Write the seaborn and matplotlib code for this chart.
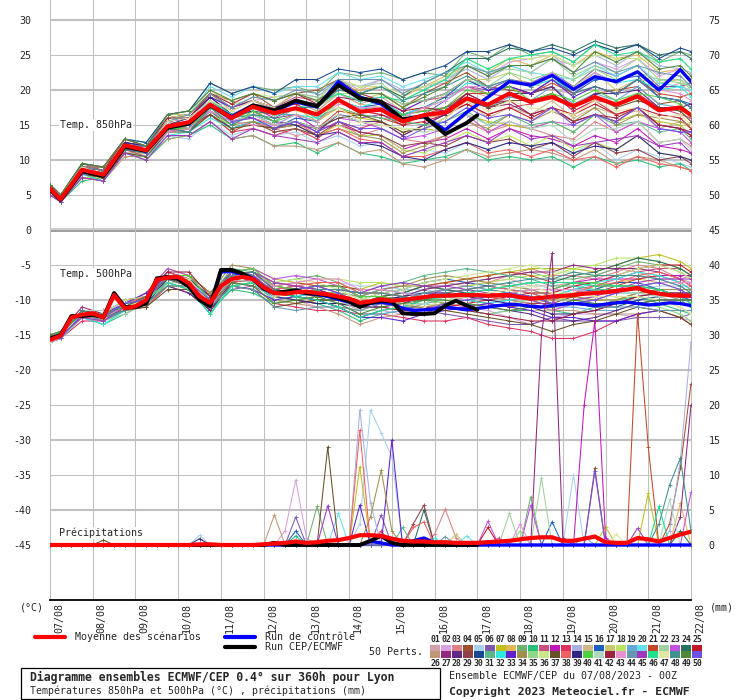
import numpy as np
import pandas as pd
import seaborn as sns
import matplotlib.pyplot as plt
from matplotlib.patches import Rectangle
from matplotlib.transforms import ScaledTranslation

# Time steps, hours after 07/08 00Z
hours_12 = [0, 6, 18, 30, 42, 54, 66, 78, 90, 102, 114, 126, 138, 150, 162, 174,
            186, 198, 210, 222, 234, 246, 258, 270, 282, 294, 306, 318, 330, 342, 354, 360]
hours_det12 = hours_12[:21] + [240]
hours_6 = list(range(0, 361, 6))
day_labels = ["07/08", "08/08", "09/08", "10/08", "11/08", "12/08", "13/08", "14/08",
              "15/08", "16/08", "17/08", "18/08", "19/08", "20/08", "21/08", "22/08"]

member_colors = ["#d4a0a8", "#d8a0e0", "#e08088", "#a05030", "#a8d0f0", "#8058b0", "#c0c020", "#e0b858",
                 "#70b070", "#28c078", "#c85080", "#c018b8", "#e03060", "#a8b0e0", "#d0b888", "#1860c0",
                 "#c8c870", "#b8e860", "#68a8d8", "#68e0f0", "#c04828", "#a0d0a0", "#c050e0", "#287060",
                 "#c01828", "#c09878", "#902880", "#602888", "#904048", "#184890", "#58b888", "#30e8e0",
                 "#6020d0", "#a09050", "#90d888", "#c8e888", "#685028", "#f06060", "#302880", "#50d040",
                 "#b0d8c0", "#a02040", "#e890d0", "#6898b0", "#a038c0", "#20e090", "#e0e8a0", "#409090",
                 "#508838", "#7050e8"]

# ---- Temp 850 hPa (12-hourly) ----
t850_mean = [5.9, 4.4, 8.6, 7.9, 12.1, 11.4, 14.8, 15.4, 17.9, 16.0, 17.6, 16.7, 17.4, 16.5, 18.6, 16.9,
             17.2, 15.5, 16.4, 16.8, 18.8, 17.9, 19.5, 18.3, 19.0, 17.7, 19.0, 17.9, 19.1, 17.1, 17.5, 16.4]
t850_ctrl = [5.9, 4.5, 8.5, 7.8, 12.0, 11.4, 14.7, 15.2, 17.9, 16.2, 17.8, 17.0, 18.3, 17.6, 21.2, 19.0,
             18.0, 15.8, 16.2, 14.3, 16.8, 19.0, 21.2, 20.7, 22.1, 20.1, 21.9, 21.2, 22.6, 20.0, 22.9, 21.2]
t850_det = [5.8, 4.3, 8.4, 7.7, 11.9, 11.3, 14.6, 15.2, 17.8, 16.0, 17.8, 17.1, 18.5, 17.7, 20.7, 18.8,
            18.3, 15.8, 16.3, 13.7, 15.3, 16.4]
t850_members = [
    [6, 4.5, 9, 8.5, 12.5, 11.5, 15.5, 16, 18.5, 16, 17.5, 17, 18.5, 17, 19.5, 18, 19, 17, 18.5, 19.5, 20, 19, 21.5, 21, 20, 19.5, 22, 21, 22.5, 20, 21, 19.5],
    [6.5, 4.5, 8.5, 8, 12.5, 12, 15.5, 15, 19.5, 17, 18.5, 19, 19.5, 18.5, 21.5, 20, 21.5, 19.5, 20.5, 21, 23.5, 22, 24, 24.5, 25, 22.5, 24, 23, 24.5, 22, 23, 21.5],
    [5.5, 4, 8.5, 7.5, 11.5, 11, 14.5, 15, 17, 15.5, 15, 14.5, 13.5, 14, 15.5, 13.5, 14.5, 13, 12.5, 13.5, 15.5, 14, 15, 14.5, 13.5, 13, 15.5, 14, 15.5, 12.5, 13, 12],
    [6.5, 5, 9.5, 8.5, 12.5, 12, 16, 16.5, 19.5, 18.5, 19.5, 17.5, 19.5, 20, 21.5, 19.5, 19.5, 17.5, 19.5, 21, 22.5, 20.5, 20, 19.5, 20.5, 17.5, 19.5, 20, 20.5, 18, 18.5, 17.5],
    [5.5, 4, 7.5, 7, 11, 10.5, 13.5, 13, 15.5, 13.5, 14.5, 13.5, 14, 12.5, 13.5, 12, 12.5, 10.5, 11.5, 11, 12.5, 11.5, 12.5, 12, 11.5, 11, 12.5, 10, 11.5, 10.5, 9.5, 9],
    [6, 4.5, 9, 8, 12, 11.5, 15, 14.5, 18, 15.5, 16.5, 15, 15.5, 14.5, 16.5, 16, 16.5, 15.5, 16.5, 18.5, 20.5, 20, 21.5, 21, 22.5, 20.5, 23, 22, 23.5, 20.5, 20.5, 21],
    [6, 5, 8, 8.5, 12.5, 11, 15.5, 16.5, 19, 17.5, 18.5, 17, 17.5, 15.5, 17.5, 16, 15.5, 14, 14.5, 14, 16.5, 15.5, 15, 14.5, 15.5, 14, 16.5, 15.5, 16.5, 15.5, 15, 13.5],
    [5.5, 4, 8, 7.5, 12, 11, 14.5, 15, 17.5, 16, 16.5, 17, 18.5, 17.5, 20.5, 20, 20.5, 19, 20.5, 22, 23.5, 22.5, 24.5, 23.5, 25, 23.5, 25.5, 24.5, 25, 22.5, 23, 21.5],
    [6, 5, 9.5, 9, 13, 12.5, 16.5, 17, 21, 19.5, 20.5, 20, 20.5, 19.5, 22.5, 22, 22.5, 21.5, 22.5, 22, 25.5, 24.5, 26.5, 25, 25.5, 24, 26.5, 25.5, 26.5, 24, 25.5, 25],
    [5, 4, 7, 7.5, 11, 10, 13, 13.5, 15, 13, 13.5, 12, 12.5, 11, 12.5, 11, 10.5, 9.5, 10, 10.5, 11.5, 10, 10.5, 10, 10.5, 9, 10.5, 9.5, 10, 9, 9.5, 8.5],
    [6, 4.5, 8, 8, 11.5, 11, 15, 15.5, 18, 16.5, 18, 17.5, 19, 18.5, 20, 19.5, 19.5, 18, 18.5, 19, 20.5, 19.5, 19, 18.5, 19.5, 17, 18.5, 18, 19.5, 17.5, 16.5, 16],
    [6, 5, 9, 8.5, 12, 12, 15.5, 16, 18.5, 16.5, 17.5, 16, 16.5, 14.5, 15, 14, 13.5, 11.5, 12.5, 13, 14.5, 13, 14.5, 13.5, 13, 12, 13.5, 12.5, 14.5, 12, 11.5, 11],
    [5.5, 4, 7.5, 7, 11.5, 10.5, 14, 14.5, 16.5, 14, 14.5, 13.5, 14.5, 13, 15.5, 14.5, 15.5, 13.5, 15, 16.5, 18, 16.5, 17.5, 18, 19.5, 17, 18.5, 16.5, 17.5, 15, 14.5, 13.5],
    [6, 4, 8.5, 8, 12, 11.5, 15, 15.5, 18, 16.5, 18, 17.5, 19.5, 19, 21.5, 20.5, 21.5, 20, 20.5, 21.5, 23, 21.5, 23.5, 22.5, 24.5, 23.5, 25, 23.5, 25.5, 23.5, 23, 22.5],
    [6, 4.5, 8.5, 8, 12, 11.5, 15.5, 16, 19.5, 17, 18.5, 17.5, 18.5, 17, 19.5, 18, 17.5, 15.5, 16, 16.5, 18.5, 16, 17.5, 16.5, 18.5, 16, 17.5, 16.5, 17, 14.5, 15.5, 14.5],
    [6, 4, 8.5, 8, 11.5, 11, 14.5, 14, 17, 14.5, 15.5, 14.5, 16, 15.5, 18.5, 17.5, 18, 16.5, 17.5, 19, 21.5, 20, 20.5, 19.5, 21.5, 19.5, 21.5, 21.5, 22, 19, 18.5, 18],
    [6.5, 5, 9, 9, 12.5, 12, 16.5, 16.5, 20, 18, 18.5, 17.5, 19.5, 18.5, 19.5, 18.5, 19.5, 17.5, 17, 19.5, 21.5, 21.5, 22.5, 20.5, 21.5, 20.5, 22.5, 20, 21.5, 21, 21.5, 20],
    [5.5, 4, 7.5, 7.5, 11, 10.5, 14.5, 14.5, 16.5, 15, 15.5, 14, 14.5, 13.5, 15, 13.5, 13.5, 11.5, 11, 12.5, 14, 12.5, 13.5, 12, 13.5, 11.5, 12.5, 11.5, 13.5, 11, 10.5, 10],
    [6, 4, 8, 8, 12, 11, 15, 15, 18, 16, 17.5, 16.5, 16.5, 15.5, 18.5, 17.5, 17, 16.5, 16, 17.5, 19, 17.5, 19, 18.5, 20.5, 18, 19.5, 18.5, 20.5, 18, 17.5, 16.5],
    [6.5, 5, 9, 9, 13, 12.5, 16, 16.5, 20.5, 19, 20.5, 19.5, 20.5, 20.5, 22.5, 21.5, 22, 20.5, 21.5, 22.5, 24, 22.5, 23.5, 22.5, 22, 21.5, 23.5, 22, 23.5, 21, 20.5, 20],
    [5.5, 4, 8, 7, 11.5, 11, 14, 14.5, 16.5, 14, 15.5, 14.5, 15, 14.5, 17, 16.5, 16, 15, 16.5, 17.5, 19.5, 19.5, 20.5, 19.5, 21, 19.5, 20.5, 19.5, 21.5, 19.5, 19, 19.5],
    [6, 5, 9, 8.5, 12.5, 12, 15.5, 16, 19, 17.5, 19, 18.5, 19.5, 19, 21, 20.5, 21, 18.5, 20, 21.5, 23.5, 22.5, 23, 22.5, 24.5, 22, 23.5, 22.5, 24.5, 21.5, 21.5, 20.5],
    [6, 4, 8.5, 8, 12, 11, 14.5, 15, 17.5, 15.5, 16.5, 15, 15.5, 14.5, 16, 15.5, 14.5, 13, 13.5, 14.5, 16.5, 14, 15.5, 14.5, 15.5, 15, 16.5, 14, 15.5, 14.5, 14, 12.5],
    [6, 4, 8, 7.5, 12, 11.5, 14.5, 14, 17.5, 16, 17, 16.5, 18.5, 18, 20.5, 19.5, 20.5, 19, 21, 22.5, 24.5, 24.5, 26, 25.5, 26.5, 25.5, 27, 26, 26.5, 25, 25.5, 24.5],
    [6.5, 5, 9, 8.5, 13, 12, 16, 16.5, 19.5, 17.5, 18.5, 17.5, 18, 16.5, 18.5, 17, 16.5, 15, 15.5, 16.5, 18, 16.5, 17.5, 16, 17.5, 16.5, 18, 16.5, 17.5, 16.5, 16, 14.5],
    [5, 4, 7.5, 7, 10.5, 10.5, 13, 13.5, 15.5, 13, 13.5, 12, 12, 11.5, 12.5, 11, 11.5, 9.5, 9, 10, 11.5, 10.5, 11, 11.5, 11, 10, 11.5, 9.5, 10.5, 10, 9, 8.5],
    [6, 4.5, 9, 8, 12.5, 11, 15, 15.5, 18, 16.5, 17.5, 17, 17.5, 16.5, 19, 18.5, 18.5, 16.5, 17, 17.5, 18.5, 17.5, 18, 16.5, 17.5, 15.5, 16.5, 15.5, 17.5, 15, 14.5, 14],
    [6, 5, 9, 8.5, 12, 12, 15.5, 16, 19, 16.5, 16, 14.5, 15.5, 14, 16.5, 15.5, 15.5, 13.5, 15, 16.5, 19.5, 18, 19.5, 19.5, 20.5, 17.5, 19.5, 19.5, 20, 17.5, 17.5, 18],
    [6, 4, 8, 7.5, 11.5, 11, 14, 15, 16.5, 14.5, 15.5, 14, 14.5, 13.5, 15.5, 14, 13.5, 12, 12.5, 12, 13.5, 12.5, 13, 11.5, 12.5, 10.5, 12.5, 11, 11.5, 10, 10.5, 9.5],
    [6.5, 5, 9.5, 9, 13, 12.5, 16.5, 17, 21, 19.5, 20.5, 19.5, 21.5, 21.5, 23, 22.5, 23, 21.5, 22.5, 23.5, 25.5, 25.5, 26.5, 25.5, 26, 25, 26.5, 25.5, 26.5, 24.5, 26, 25.5],
    [6, 4, 8, 8, 12, 11, 15, 14.5, 18, 16, 16.5, 15.5, 17.5, 16, 17.5, 16.5, 16, 15.5, 15, 15.5, 17, 15, 16.5, 15, 15.5, 14, 16.5, 15, 15.5, 14, 14.5, 13],
    [5.5, 4, 8, 7, 11, 10.5, 13.5, 14, 16, 14.5, 15.5, 15, 16.5, 16, 18.5, 17.5, 18.5, 16.5, 17.5, 18.5, 21, 20.5, 21.5, 20.5, 21.5, 20, 22.5, 21, 21.5, 20, 20.5, 19],
    [6, 5, 9, 8, 12.5, 12, 15.5, 16, 19, 17.5, 18.5, 17.5, 18.5, 17.5, 20.5, 19, 18.5, 17, 18.5, 19.5, 21.5, 20, 20.5, 19.5, 21.5, 19, 20.5, 19.5, 21.5, 19, 18.5, 17.5],
    [6, 4, 8, 8, 11, 11, 14, 15, 17, 15, 15.5, 14.5, 15, 13.5, 14.5, 13.5, 13, 11, 12, 13.5, 15.5, 14.5, 16.5, 15.5, 17, 15.5, 17.5, 15, 16.5, 16, 15.5, 15],
    [6, 4, 9, 8, 12, 11.5, 15, 15, 18.5, 16.5, 17.5, 16.5, 18.5, 17.5, 19.5, 19.5, 19.5, 18, 18.5, 19.5, 21.5, 20.5, 22.5, 21.5, 22.5, 21.5, 23, 21.5, 22.5, 21.5, 21, 20.5],
    [6.5, 5, 9, 9, 13, 12, 16, 16.5, 20, 18.5, 19.5, 19, 19.5, 18.5, 21.5, 20.5, 20.5, 19.5, 20.5, 21.5, 24.5, 23, 24.5, 24.5, 25, 23.5, 25, 24.5, 24.5, 24, 24.5, 23],
    [5.5, 4, 8, 7.5, 11, 10.5, 14, 14, 16.5, 14.5, 15, 14.5, 15.5, 14.5, 16, 16.5, 15.5, 14, 14.5, 16, 18.5, 17.5, 18.5, 18.5, 19.5, 17.5, 19, 17.5, 18.5, 17.5, 17, 15.5],
    [6, 4.5, 8, 8, 12, 11, 15, 15.5, 18, 15.5, 16, 15, 15.5, 13.5, 14.5, 13, 12.5, 10.5, 10.5, 11.5, 12.5, 11, 11.5, 10.5, 11.5, 10, 10.5, 9, 10.5, 9.5, 9, 8.5],
    [6, 5, 9, 8, 12.5, 12, 15, 16, 19, 16.5, 17, 15.5, 15, 13.5, 14, 12.5, 12, 10.5, 10, 11.5, 12.5, 11.5, 12.5, 12, 12.5, 11, 12, 11.5, 13.5, 11, 10.5, 10],
    [6, 4, 8.5, 8, 12, 11, 14.5, 14.5, 17.5, 15, 17, 15.5, 16.5, 15.5, 18.5, 17, 17.5, 16.5, 17, 17.5, 20, 19.5, 20.5, 18.5, 19.5, 18.5, 20, 18.5, 19.5, 19, 18, 16.5],
    [6, 4, 8, 8, 12, 11, 15, 15, 17.5, 15.5, 16.5, 15, 15.5, 14.5, 16.5, 15.5, 15, 14.5, 14, 14.5, 16.5, 15, 15.5, 14.5, 15, 12.5, 14.5, 14.5, 15.5, 12.5, 13, 11.5],
    [6.5, 5, 9, 9, 13, 12, 16, 16, 19.5, 18, 19.5, 18.5, 19.5, 18, 20.5, 19.5, 18.5, 17, 17.5, 17, 19.5, 18, 18.5, 16.5, 17.5, 15.5, 16.5, 16, 17.5, 15, 14.5, 13.5],
    [6, 4, 8, 8, 12, 11, 14, 14.5, 17, 15.5, 15, 15, 16.5, 15.5, 18, 17.5, 17.5, 16, 17.5, 18.5, 20.5, 20.5, 21.5, 20.5, 22.5, 20, 22.5, 21, 22.5, 20, 19.5, 18.5],
    [6, 5, 9, 8.5, 12, 12, 15.5, 16.5, 19.5, 17.5, 19, 18.5, 20, 19.5, 21.5, 21.5, 21.5, 19.5, 21, 22.5, 23.5, 22.5, 23.5, 23.5, 24.5, 22.5, 24, 22.5, 23.5, 22.5, 22, 20.5],
    [5, 4, 7.5, 7, 11, 10, 13.5, 13.5, 15.5, 13, 14.5, 13.5, 13, 12.5, 14, 12.5, 12.5, 10.5, 11.5, 12.5, 13.5, 12.5, 14.5, 13, 13.5, 12, 12.5, 13, 13.5, 12, 12.5, 11],
    [6, 4.5, 8.5, 8, 12, 11.5, 15, 15, 18.5, 16.5, 17.5, 17, 17.5, 18, 19.5, 18.5, 19, 18.5, 20, 21.5, 24.5, 23, 24.5, 25, 25.5, 24, 26.5, 25, 25.5, 24, 24.5, 23],
    [6, 5, 9, 8, 12, 11.5, 15.5, 16, 18.5, 17, 18.5, 17.5, 17, 16.5, 17.5, 15.5, 15, 14.5, 14.5, 16, 18.5, 17, 18.5, 17.5, 17, 16.5, 18.5, 17, 17.5, 16, 16.5, 15],
    [6, 4, 8, 8, 11.5, 11, 14.5, 14, 17.5, 15, 16.5, 16, 17.5, 17.5, 20, 19.5, 20.5, 18.5, 19.5, 20.5, 22, 20.5, 21.5, 20.5, 22, 19.5, 20.5, 19.5, 21.5, 19, 18.5, 17.5],
    [6.5, 5, 9.5, 9, 13, 12, 16.5, 17, 20, 18.5, 19.5, 18.5, 19.5, 18.5, 20.5, 19.5, 19.5, 17.5, 19, 20.5, 23.5, 22, 23.5, 23.5, 24.5, 22.5, 25.5, 24, 25.5, 23, 23.5, 22],
    [6, 4, 8, 8, 12, 11, 15, 15, 18, 15.5, 16, 14.5, 15.5, 14, 15.5, 14.5, 14.5, 13, 14.5, 15.5, 17.5, 16, 16.5, 15.5, 17.5, 15, 16.5, 15.5, 17.5, 14.5, 14, 14],
]

# ---- Temp 500 hPa ----
t500_mean = [-15.7, -15.1, -12.5, -12.1, -11.9, -12.5, -9.3, -11.2, -10.9, -10.0,
             -7.1, -6.8, -6.7, -7.6, -9.5, -10.4, -8.0, -7.0, -6.7, -7.0,
             -8.2, -9.0, -9.1, -8.9, -8.8, -9.0, -9.2, -9.5, -9.8, -10.4,
             -10.2, -9.9, -10.1, -10.0, -9.8, -9.6, -9.4, -9.4, -9.3, -9.3,
             -9.3, -9.4, -9.3, -9.3, -9.6, -9.8, -9.7, -9.5, -9.4, -9.3,
             -9.1, -9.0, -8.9, -8.7, -8.5, -8.3, -8.8, -9.1, -9.3, -9.4, -9.4]
t500_ctrl = [-15.6, -15.1, -12.4, -12.2, -12.0, -12.4, -9.2, -11.1, -11.0, -10.4,
             -7.0, -6.8, -7.0, -8.0, -9.9, -10.8, -6.0, -5.9, -6.4, -7.1,
             -8.3, -9.0, -8.9, -8.7, -9.0, -9.2, -9.5, -9.9, -10.3, -10.8,
             -10.5, -10.3, -10.5, -11.2, -11.5, -11.4, -11.3, -11.0, -11.2, -11.4,
             -11.2, -11.0, -10.8, -10.6, -10.7, -10.9, -11.0, -10.8, -10.6, -10.5,
             -10.6, -10.8, -10.6, -10.4, -10.3, -10.5, -10.7, -10.6, -10.4, -10.5, -10.8]
t500_det = [-15.5, -15.0, -12.3, -12.3, -12.1, -12.5, -9.0, -11.0, -11.0, -10.5,
            -6.9, -6.7, -7.0, -8.1, -10.0, -10.9, -5.7, -5.7, -6.2, -7.0,
            -8.4, -9.0, -8.8, -8.6, -9.0, -9.1, -9.3, -9.7, -10.2, -11.0,
            -10.4, -10.1, -10.2, -11.9, -12.0, -12.0, -11.9, -10.8, -10.1, -10.8, -11.4]
t500_members = [
    [-15.5, -14.5, -12, -12, -11, -9.5, -7, -7, -10.5, -6.5, -6, -8, -8.5, -8, -8, -9.5, -9.5, -9, -8, -7.5, -8, -7.5, -7, -8, -8, -7.5, -6.5, -5.5, -6, -7, -7, -7.5],
    [-16, -15, -12.5, -12.5, -10.5, -10, -7.5, -7.5, -11.5, -7.5, -8, -10.5, -10, -11, -11, -11.5, -11.5, -12, -12, -11.5, -11, -11.5, -12.5, -13.5, -12.5, -12, -12, -12, -12.5, -12.5, -12.5, -13],
    [-15.5, -15, -11.5, -12.5, -11, -9.5, -6.5, -6.5, -10, -7, -6.5, -9, -8.5, -8, -9, -10.5, -10.5, -10, -9, -8.5, -8, -7.5, -6.5, -5.5, -6.5, -6.5, -7, -6, -5, -5.5, -7, -6.5],
    [-15, -15, -12, -13, -11, -10.5, -8, -8, -10.5, -8, -7.5, -10, -10.5, -10, -10, -10.5, -9.5, -10, -10, -10.5, -10, -9.5, -9, -9.5, -10.5, -10.5, -11, -10, -9, -8.5, -8.5, -9.5],
    [-15.5, -15.5, -12, -12, -10.5, -10, -6, -7, -9.5, -6.5, -7, -8.5, -8, -7.5, -7.5, -8, -8, -8.5, -8.5, -9, -8.5, -8, -7.5, -8.5, -8.5, -9, -9, -9, -8.5, -8, -8, -9],
    [-16, -15, -12.5, -13, -11, -10, -7, -8, -11.5, -8.5, -8, -9.5, -9, -8.5, -9.5, -11, -11, -11.5, -11.5, -12, -12.5, -13, -13.5, -13.5, -12.5, -13, -13, -13, -12.5, -12.5, -12.5, -12],
    [-15, -14.5, -11.5, -12.5, -10.5, -9, -5.5, -6.5, -10, -6, -5.5, -7, -7.5, -8, -8, -8.5, -7.5, -8, -8, -7.5, -7, -6.5, -6, -5.5, -5.5, -5.5, -6, -5, -4, -3.5, -4.5, -5.5],
    [-15.5, -15, -12, -12, -11.5, -10.5, -7.5, -8.5, -11, -7, -7.5, -10, -9.5, -9, -9, -9.5, -9.5, -10, -9, -8.5, -9, -9.5, -10, -10.5, -10, -9.5, -8.5, -7.5, -7, -7.5, -8.5, -8.5],
    [-16, -15.5, -12, -12.5, -11, -9.5, -7, -7, -9.5, -6.5, -6, -7.5, -7, -6.5, -7.5, -9, -9, -9.5, -8.5, -8, -7.5, -7, -6.5, -6, -7, -7, -6.5, -5.5, -4.5, -5, -6, -7],
    [-15.5, -14.5, -12.5, -13.5, -12, -10.5, -7, -8, -11.5, -8.5, -9, -10.5, -10, -10.5, -11.5, -13, -12, -11.5, -10.5, -11, -11.5, -12, -11.5, -11.5, -11.5, -12, -11, -10, -9.5, -10.5, -11.5, -12],
    [-15, -15, -11.5, -11.5, -10.5, -10, -6.5, -7.5, -11, -7, -6.5, -8, -8.5, -9, -10, -11.5, -10.5, -10, -10, -10.5, -11, -10.5, -10, -9.5, -9.5, -8.5, -8, -7, -6, -5.5, -5.5, -6.5],
    [-15.5, -15, -12, -12.5, -11, -10, -7.5, -7.5, -10, -7, -7.5, -9, -8.5, -8, -8, -9.5, -8.5, -8, -8, -8.5, -9, -9.5, -9, -8.5, -8.5, -7.5, -7, -7, -7, -6.5, -6.5, -6.5],
    [-16, -15.5, -13, -13, -11.5, -11, -8, -9, -11.5, -7.5, -8, -10.5, -11, -11.5, -11.5, -12, -12, -12.5, -13, -13, -12.5, -13.5, -14, -14.5, -15.5, -15.5, -14.5, -13, -12, -11.5, -12.5, -13.5],
    [-15, -14.5, -12, -12, -10, -9.5, -7, -7, -9.5, -6.5, -7, -9.5, -9, -8.5, -8.5, -10, -10, -10.5, -9.5, -9, -8.5, -8, -8.5, -9, -9, -8, -7.5, -6.5, -6.5, -7, -8, -8],
    [-15.5, -15.5, -11.5, -12.5, -11.5, -10, -6.5, -7.5, -11, -8, -7.5, -9, -9.5, -10, -11, -11.5, -10.5, -10, -9, -9.5, -10, -10.5, -11, -11.5, -11.5, -10.5, -10, -9, -9, -9.5, -10.5, -10.5],
    [-15, -15, -12, -13, -11, -9.5, -6, -7, -10.5, -6.5, -6, -8.5, -9, -9.5, -9.5, -10, -9, -8.5, -7.5, -7, -7.5, -8, -8.5, -9, -10, -9, -8.5, -7.5, -7.5, -8.5, -9.5, -10],
    [-16, -15, -12, -12, -11, -10.5, -7.5, -8.5, -12, -8, -7.5, -10, -10.5, -10, -10, -10.5, -10.5, -11, -11, -10.5, -10, -9.5, -9, -8.5, -9.5, -9.5, -10, -10, -9, -8.5, -8.5, -8.5],
    [-15.5, -14.5, -11.5, -12, -11, -10, -6.5, -6.5, -9, -6, -6.5, -8, -7.5, -7, -7, -7.5, -7.5, -8, -8, -8.5, -8, -7.5, -7, -6.5, -6.5, -5.5, -5, -4, -4, -4.5, -5.5, -6.5],
    [-16, -15.5, -12.5, -12.5, -10.5, -9.5, -7, -8, -11.5, -7.5, -7, -8.5, -9, -9.5, -10.5, -12, -12, -11.5, -10.5, -10, -9.5, -9, -9.5, -10, -11, -11, -11.5, -11.5, -10.5, -10, -10, -10],
    [-15.5, -15, -11.5, -12.5, -11.5, -10.5, -7, -7, -10, -7, -6.5, -9, -9.5, -9, -9, -9.5, -8.5, -9, -9, -9.5, -10, -10.5, -10, -9.5, -9.5, -8.5, -8.5, -9, -9, -8.5, -8.5, -8.5],
    [-15, -14.5, -12, -12.5, -10.5, -10, -7.5, -8.5, -11, -7, -6.5, -8, -7.5, -8, -9, -10.5, -9.5, -9, -8, -7.5, -7, -6.5, -6, -6.5, -7.5, -7.5, -8, -8, -7, -6.5, -7.5, -8.5],
    [-15.5, -15, -12.5, -13, -12, -10.5, -8, -8, -10.5, -7.5, -8, -10.5, -10, -9.5, -9.5, -10, -10, -10.5, -10.5, -11, -11.5, -12, -11.5, -11, -11, -10, -9.5, -9.5, -9.5, -10, -11, -12],
    [-16, -15, -11.5, -11.5, -10.5, -9, -5.5, -6.5, -10, -6, -5.5, -7, -6.5, -7, -8, -9.5, -9.5, -10, -9.5, -8.5, -9, -9.5, -10, -10.5, -11.5, -10.5, -10, -9, -8, -7.5, -7.5, -7.5],
    [-15.5, -14.5, -12, -12, -11, -10, -6.5, -7.5, -11, -7, -6.5, -9, -9.5, -10, -10, -10.5, -9.5, -9, -8, -8.5, -9, -8.5, -8, -7.5, -7.5, -6.5, -6, -5, -4, -4.5, -5.5, -6.5],
    [-15, -15, -11.5, -12.5, -11.5, -10, -7, -8, -11.5, -7.5, -7, -9.5, -10, -10.5, -10.5, -11, -11, -11.5, -11.5, -11, -10.5, -10, -9.5, -9, -9, -8, -7.5, -6.5, -5.5, -5, -5, -6],
    [-15.5, -15, -12, -13, -11.5, -11, -7.5, -7.5, -10, -7, -7.5, -10, -10.5, -11, -12, -13.5, -12.5, -12, -11, -10.5, -10, -9.5, -10, -10.5, -11.5, -11.5, -12, -12, -12, -11.5, -11.5, -11.5],
    [-15, -14.5, -11, -12, -11, -9.5, -6, -7, -10.5, -6.5, -6, -7.5, -8, -8.5, -9.5, -11, -10, -9.5, -8.5, -8, -7.5, -7, -6.5, -6, -6, -5, -5.5, -5.5, -5.5, -6, -7, -8],
    [-16, -15.5, -12, -12.5, -11, -10.5, -8, -9, -11.5, -7.5, -7, -8.5, -8, -8.5, -9.5, -11, -11, -10.5, -9.5, -10, -10.5, -11, -11.5, -12, -13, -13, -12.5, -11.5, -10.5, -10, -10, -10],
    [-15.5, -15, -11.5, -12, -10, -9.5, -6.5, -6.5, -9, -6, -6.5, -9, -8.5, -8, -8, -8.5, -8.5, -9, -9.5, -9.5, -10, -10.5, -11, -10.5, -10.5, -9.5, -9, -8, -8, -8.5, -9.5, -10.5],
    [-15, -15, -12.5, -12.5, -10.5, -10, -7.5, -7.5, -10, -6, -6.5, -9, -9.5, -10, -11, -12.5, -11.5, -11, -10, -9.5, -9, -8.5, -9, -9.5, -10.5, -10.5, -11, -11, -10, -9.5, -9.5, -9.5],
    [-15.5, -14.5, -11.5, -12.5, -11, -9.5, -7, -7, -9.5, -5.5, -6, -8.5, -9, -8.5, -8.5, -9, -8, -7.5, -6.5, -6, -5.5, -6, -6.5, -7, -8, -8, -8.5, -8.5, -8.5, -9, -10, -11],
    [-16, -15.5, -12.5, -13.5, -11.5, -10, -7.5, -8.5, -12, -8, -7.5, -10, -9.5, -9, -9, -9.5, -8.5, -9, -9.5, -10, -10, -10.5, -10, -9.5, -9.5, -8.5, -7.5, -7, -6, -6.5, -7.5, -8.5],
    [-15.5, -15, -12, -12, -10.5, -9, -6.5, -7.5, -11, -8, -8.5, -10, -9.5, -10, -11, -12.5, -12.5, -13, -12, -11.5, -11, -10.5, -11, -11.5, -12.5, -12.5, -13, -13, -12, -11.5, -11.5, -11.5],
    [-15, -14.5, -12, -13, -11, -10, -6.5, -6.5, -9, -5, -5.5, -8, -8.5, -9, -9, -9.5, -8.5, -8, -7, -6.5, -7, -7.5, -8, -8.5, -9.5, -9.5, -10, -10, -9, -8.5, -8.5, -8.5],
    [-15.5, -15.5, -12.5, -12.5, -11, -10.5, -8, -8, -10.5, -6.5, -7, -9.5, -10, -9.5, -9.5, -10, -9, -9.5, -10, -10, -10.5, -11, -10.5, -10, -10, -10, -10.5, -10.5, -10.5, -11, -12, -13],
    [-15, -15, -12, -12, -10, -9.5, -7, -7, -9.5, -6.5, -6, -7.5, -7, -7.5, -8.5, -10, -9, -8.5, -7.5, -7, -6.5, -6, -5.5, -5, -6, -6, -6.5, -6.5, -5.5, -5, -6, -7],
    [-16, -15, -11.5, -12.5, -11.5, -11, -8.5, -8.5, -11, -8, -8.5, -11, -10.5, -10, -10, -10.5, -10.5, -11, -11, -11.5, -12, -12.5, -13, -13.5, -14.5, -13.5, -13, -12, -11, -11.5, -12.5, -13.5],
    [-15.5, -15, -12.5, -12.5, -10.5, -9.5, -6, -7, -10.5, -7.5, -7, -8.5, -8, -7.5, -7.5, -9, -9, -9.5, -10, -9, -8.5, -8, -8.5, -9, -10, -9, -8, -7.5, -6.5, -6, -7, -8],
    [-16, -14.5, -12, -12, -11, -10.5, -7, -7, -9.5, -6.5, -7, -9.5, -10, -10.5, -10.5, -11, -10, -9.5, -9, -9, -9.5, -10, -10.5, -11, -12, -12, -11.5, -10.5, -9.5, -9, -9, -9],
    [-15.5, -15, -12, -12.5, -11.5, -10, -6.5, -6.5, -10, -6, -5.5, -8, -8.5, -8, -8, -9.5, -9.5, -10, -10, -10.5, -10, -9.5, -9, -8.5, -8.5, -7.5, -7.5, -8, -8, -7.5, -7.5, -7.5],
    [-15, -14.5, -11.5, -11.5, -10.5, -10, -7.5, -7.5, -10, -7, -7.5, -9, -8.5, -9, -10, -11.5, -11.5, -11, -10.5, -9.5, -9, -8.5, -8, -7.5, -8.5, -8.5, -9, -9, -9, -9.5, -9.5, -9.5],
    [-15.5, -15, -11.5, -12.5, -11, -9.5, -6, -6, -9.5, -6.5, -6, -8.5, -9, -9.5, -9.5, -10, -10, -10.5, -11, -11, -11.5, -12, -12.5, -13, -13, -12, -11.5, -10.5, -9.5, -9, -9, -9],
    [-16, -15.5, -12, -12.5, -11, -10, -7.5, -8.5, -11, -7, -6.5, -8, -7.5, -7, -7, -8.5, -8.5, -9, -9.5, -9.5, -10, -9.5, -9, -8.5, -8.5, -8.5, -9, -9, -8, -7.5, -7.5, -7.5],
    [-15.5, -15, -12, -13, -11.5, -10, -6.5, -7.5, -11, -8, -8.5, -11, -11.5, -11, -11, -11.5, -10.5, -10, -9, -8.5, -8, -8.5, -9, -9.5, -10.5, -10.5, -11, -11, -11, -11.5, -11.5, -11.5],
    [-15, -15, -12.5, -13, -11, -9.5, -7, -8, -10.5, -6.5, -6, -7.5, -8, -8.5, -8.5, -9, -8, -7.5, -8, -8, -8.5, -9, -9.5, -10, -11, -10, -9.5, -8.5, -7.5, -7, -7, -7],
    [-15.5, -14.5, -12, -12.5, -10.5, -10, -7.5, -8.5, -12, -8, -7.5, -9, -9.5, -10, -11, -12.5, -11.5, -11, -10, -9.5, -9, -8.5, -8, -7.5, -7.5, -7.5, -8, -8, -8, -8.5, -9.5, -10.5],
    [-16, -15, -12, -12, -11, -10, -6.5, -7, -10.5, -6.5, -7, -9.5, -9, -8.5, -8.5, -10, -10, -10.5, -11, -10, -9.5, -9, -8.5, -8, -9, -9, -9.5, -9.5, -9.5, -10, -11, -12],
    [-15.5, -15, -11.5, -12.5, -11.5, -10.5, -8, -8, -10.5, -6.5, -6, -8.5, -9, -8.5, -8.5, -9, -9, -9.5, -10, -9, -8.5, -8, -7.5, -7, -7, -6, -6.5, -6.5, -6.5, -7, -8, -9],
    [-15, -14.5, -12, -12, -11, -9.5, -7, -8, -10.5, -7.5, -8, -10.5, -10, -9.5, -10.5, -12, -11, -10.5, -10, -10, -10.5, -11, -11.5, -11, -11, -10, -10.5, -10.5, -10.5, -10, -10, -10],
    [-15.5, -15.5, -12, -12.5, -10.5, -10, -6.5, -7.5, -10, -6, -6.5, -9, -8.5, -8, -9, -10.5, -10.5, -11, -11.5, -10.5, -10, -9.5, -9, -9.5, -10.5, -10.5, -10, -9, -8, -7.5, -8.5, -9.5],
]

# ---- Precipitation, mm per 6 h ----
rr_mean = [0, 0, 0, 0, 0, 0, 0, 0, 0, 0,
           0, 0, 0, 0, 0.1, 0.1, 0, 0, 0, 0,
           0.1, 0.2, 0.3, 0.5, 0.3, 0.4, 0.6, 0.7, 1.0, 1.4,
           1.4, 1.3, 0.9, 0.6, 0.5, 0.5, 0.4, 0.4, 0.3, 0.3,
           0.3, 0.4, 0.5, 0.6, 0.8, 1.0, 1.1, 1.1, 0.6, 0.6,
           0.9, 1.2, 0.4, 0.3, 0.3, 1.0, 0.8, 0.5, 1.0, 1.5, 1.9]
rr_ctrl = {180: 0.5, 186: 0.3, 204: 0.6, 210: 1.0, 216: 0.3}
rr_det = {126: 0.3, 180: 0.6, 186: 1.3, 192: 0.3}
rr_members = {
    2: {132: 2, 138: 9.3, 144: 1},
    3: {216: 1.5, 222: 5.1, 228: 1},
    4: {306: 11, 348: 3, 354: 11, 360: 23},
    5: {84: 1.4, 174: 3, 180: 19.3, 186: 16, 192: 12.6, 294: 10},
    6: {138: 4, 186: 4.3},
    7: {174: 11.2, 312: 2.6, 336: 7.4},
    8: {354: 6},
    9: {150: 5.5, 270: 6.9},
    10: {138: 1.3},
    11: {252: 1},
    12: {300: 20, 306: 32, 312: 1},
    13: {186: 2},
    14: {174: 19.3, 180: 6, 348: 2, 354: 12, 360: 29},
    16: {138: 2, 282: 3.3},
    17: {228: 1.5},
    19: {300: 1.2},
    20: {162: 4.5, 234: 1.3},
    21: {330: 33, 336: 14},
    22: {258: 4.5, 276: 9.6},
    23: {246: 3.4, 270: 5.7, 360: 7.5},
    24: {210: 5, 354: 2},
    25: {246: 2.5},
    26: {126: 4.3},
    27: {276: 30, 282: 41.7, 288: 1, 354: 4, 360: 20},
    29: {204: 3, 210: 5.7},
    31: {198: 2.5},
    32: {216: 1},
    33: {174: 5.7, 192: 15},
    34: {180: 4, 186: 10.7, 192: 2},
    35: {264: 2},
    37: {30: 0.7, 156: 14},
    38: {174: 16.4, 204: 2.5, 210: 3.3},
    39: {84: 0.9},
    41: {348: 6.5},
    43: {264: 3},
    44: {222: 1.2},
    45: {156: 5.6, 330: 2.4},
    46: {342: 5.5},
    47: {318: 1.5},
    48: {342: 3, 348: 8.6, 354: 12.4, 360: 2},
    50: {306: 10.5},
}

# long tables for seaborn
rows850, rows500, rowsrr = [], [], []
for m in range(1, 51):
    for h, v in zip(hours_12, t850_members[m - 1]):
        rows850.append((m, h, v))
    for h, v in zip(hours_12, t500_members[m - 1]):
        rows500.append((m, h, v))
    spikes = rr_members.get(m, {})
    for h in hours_6:
        rowsrr.append((m, h, spikes.get(h, 0)))
df850 = pd.DataFrame(rows850, columns=["member", "hour", "val"])
df500 = pd.DataFrame(rows500, columns=["member", "hour", "val"])
dfrr = pd.DataFrame(rowsrr, columns=["member", "hour", "val"])
rr_ctrl_full = [rr_ctrl.get(h, 0) for h in hours_6]
rr_det_full = [rr_det.get(h, 0) for h in hours_6 if h <= 240]

pal = {m: member_colors[m - 1] for m in range(1, 51)}

sns.set_style("white")
plt.rcParams["font.family"] = ["DejaVu Sans Mono"]
plt.rcParams["axes.unicode_minus"] = False

fig = plt.figure(figsize=(7.4, 7.0), dpi=100)
ax = fig.add_axes([50 / 740, 100 / 700, 641 / 740, 600 / 700])
ylo, yhi = -52.86, 32.86
ax.set_xlim(0, 360)
ax.set_ylim(ylo, yhi)

# grid
for v in range(-45, 31, 5):
    if v == 0:
        continue
    ax.axhline(v, color="#c0c0c0", lw=1.5 if v % 10 == 0 else 0.75, zorder=0)
ax.axhline(0.12, color="#c4c4c4", lw=1.2, zorder=0)
ax.axhline(-0.2, color="#8c8c8c", lw=1.2, zorder=0)
for h in range(0, 361, 24):
    ax.axvline(h, color="#c0c0c0", lw=0.75, zorder=0, clip_on=False)

line_kw = dict(estimator=None, legend=False, lw=0.75, marker="+", markersize=3, mew=0.6)
sns.lineplot(data=df850, x="hour", y="val", hue="member", palette=pal, ax=ax, zorder=2, **line_kw)
sns.lineplot(data=df500, x="hour", y="val", hue="member", palette=pal, ax=ax, zorder=2, **line_kw)
for ln in ax.lines:
    ln.set_markeredgecolor(ln.get_color())

sns.lineplot(x=hours_12, y=t850_ctrl, color="#0000ff", lw=2.4, ax=ax, zorder=3, estimator=None)
sns.lineplot(x=hours_det12, y=t850_det, color="black", lw=2.8, ax=ax, zorder=4, estimator=None)
sns.lineplot(x=hours_12, y=t850_mean, color="#ff0000", lw=3, ax=ax, zorder=5, estimator=None)
sns.lineplot(x=hours_6, y=t500_ctrl, color="#0000ff", lw=2.4, ax=ax, zorder=3, estimator=None)
sns.lineplot(x=hours_6[:41], y=t500_det, color="black", lw=2.8, ax=ax, zorder=4, estimator=None)
sns.lineplot(x=hours_6, y=t500_mean, color="#ff0000", lw=3, ax=ax, zorder=5, estimator=None)

# precipitation on the right-hand (mm) scale
ax2 = ax.twinx()
ax2.set_ylim(ylo + 45, yhi + 45)
sns.lineplot(data=dfrr, x="hour", y="val", hue="member", palette=pal, ax=ax2, zorder=2, **line_kw)
for ln in ax2.lines:
    ln.set_markeredgecolor(ln.get_color())
sns.lineplot(x=hours_6, y=rr_ctrl_full, color="#0000ff", lw=2.4, ax=ax2, zorder=3, estimator=None)
sns.lineplot(x=hours_6[:41], y=rr_det_full, color="black", lw=2.8, ax=ax2, zorder=4, estimator=None)
sns.lineplot(x=hours_6, y=rr_mean, color="#ff0000", lw=3, ax=ax2, zorder=5, estimator=None)

# axes cosmetics
fs = 7.2
ax.set_xlabel("")
ax.set_ylabel("")
ax2.set_ylabel("")
ax.set_yticks(range(-45, 31, 5))
ax.set_yticklabels([str(v) for v in range(-45, 31, 5)])
ax2.set_yticks(range(0, 76, 5))
ax2.set_yticklabels([str(v) for v in range(0, 76, 5)])
ax.tick_params(axis="y", length=0, pad=13.5, labelsize=fs)
ax2.tick_params(axis="y", length=0, pad=12.5, labelsize=fs)
ax.set_xticks(range(0, 361, 24))
ax.set_xticklabels(day_labels, rotation=90, fontsize=fs)
ax.tick_params(axis="x", length=0, pad=2)
shift = ScaledTranslation(0.09, 0, fig.dpi_scale_trans)
for lab in ax.get_xticklabels():
    lab.set_transform(lab.get_transform() + shift)
for sp in ["top", "left", "right"]:
    ax.spines[sp].set_visible(False)
for sp in ax2.spines.values():
    sp.set_visible(False)
ax.spines["bottom"].set_color("black")
ax.spines["bottom"].set_linewidth(1.3)

box = dict(fc="white", ec="none", pad=0.6)
ax.text(5.6, 15, "Temp. 850hPa", fontsize=fs, va="center", ha="left", bbox=box, zorder=6)
ax.text(5.6, -6.3, "Temp. 500hPa", fontsize=fs, va="center", ha="left", bbox=box, zorder=6)
ax.text(5.2, -43.3, "Précipitations", fontsize=fs, va="center", ha="left", bbox=box, zorder=6)

# legend / caption area, in pixel coordinates
deco = fig.add_axes([0, 0, 1, 1])
deco.set_xlim(0, 740)
deco.set_ylim(700, 0)
deco.axis("off")
deco.text(20, 607, "(°C)", fontsize=fs, va="center", ha="left")
deco.text(710, 607, "(mm)", fontsize=fs, va="center", ha="left")
deco.plot([35, 65], [637, 637], color="#ff0000", lw=3)
deco.text(75, 637, "Moyenne des scénarios", fontsize=fs, va="center")
deco.plot([225, 255], [637, 637], color="#0000ff", lw=3)
deco.text(265, 637, "Run de contrôle", fontsize=fs, va="center")
deco.plot([225, 255], [647, 647], color="black", lw=3)
deco.text(265, 647, "Run CEP/ECMWF", fontsize=fs, va="center")
deco.text(369, 652, "50 Perts.", fontsize=fs, va="center")
for i in range(25):
    x0 = 430 + i * 10.92
    deco.add_patch(Rectangle((x0, 644.5), 10, 6.6, color=member_colors[i], lw=0))
    deco.add_patch(Rectangle((x0, 651.2), 10, 6.6, color=member_colors[i + 25], lw=0))
    deco.text(x0 + 5, 639.3, f"{i + 1:02d}", fontsize=5.9, weight="bold", ha="center", va="center")
    deco.text(x0 + 5, 663.2, f"{i + 26:02d}", fontsize=5.9, weight="bold", ha="center", va="center")
deco.add_patch(Rectangle((20.5, 668), 419.5, 31, fill=False, ec="black", lw=0.9))
deco.text(30, 677.5, "Diagramme ensembles ECMWF/CEP 0.4° sur 360h pour Lyon",
          fontsize=8.3, weight="bold", va="center")
deco.text(30, 691, "Températures 850hPa et 500hPa (°C) , précipitations (mm)", fontsize=7.1, va="center")
deco.text(449, 676, "Ensemble ECMWF/CEP du 07/08/2023 - 00Z", fontsize=fs, va="center")
deco.text(449, 692, "Copyright 2023 Meteociel.fr - ECMWF", fontsize=8.2, weight="bold", va="center")

fig.savefig("out.png", dpi=100)
